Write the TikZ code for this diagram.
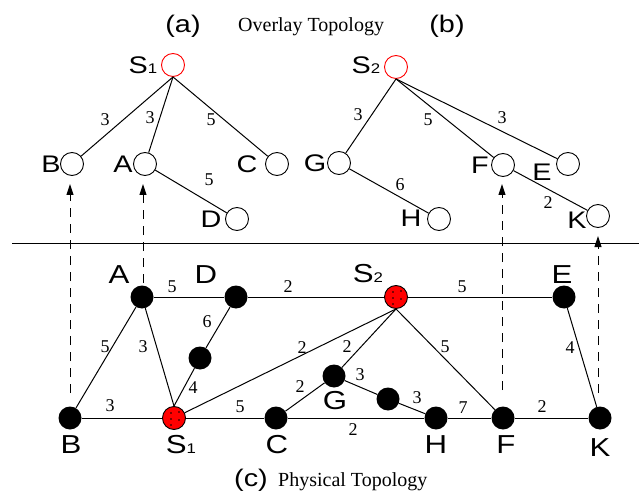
\documentclass[tikz,border=0pt]{standalone}
\usepackage{fontspec}
\setmainfont{Liberation Serif}
\newfontfamily\labfont[FakeStretch=1.2]{Liberation Sans}
\newfontfamily\wtfont{Liberation Serif}
\usetikzlibrary{arrows.meta,calc}
\definecolor{srcred}{RGB}{255,0,0}
\newcommand{\nsub}[1]{{\fontsize{14}{14}\selectfont #1}}

\begin{document}
\begin{tikzpicture}[x=1pt,y=-1pt,
  ov/.style={circle,draw,line width=0.9pt,minimum size=23pt,inner sep=0pt},
  ovsrc/.style={ov,draw=srcred},
  ph/.style={circle,fill=black,minimum size=23pt,inner sep=0pt},
  phsrc/.style={circle,draw,fill=srcred,line width=0.9pt,minimum size=23pt,inner sep=0pt},
  lbl/.style={inner sep=0pt,font={\labfont\fontsize{24}{24}\selectfont}},
  plbl/.style={inner sep=0pt,font={\labfont\fontsize{26}{26}\selectfont}},
  wt/.style={inner sep=0pt,font={\wtfont\fontsize{18}{18}\selectfont}},
  title/.style={inner sep=0pt,anchor=base west,font={\wtfont\fontsize{20}{20}\selectfont}},
  link/.style={line width=1pt},
  maparrow/.style={line width=1pt,dash pattern=on 9pt off 7pt,-{Triangle[length=11pt,width=7pt]}}]
\useasboundingbox (0,0) rectangle (639,494);

% titles
\node[lbl] (capA) at (183,26) {(a)};
\node[lbl] (capB) at (447,26) {(b)};
\node[title] (ovtitle) at (238,32) {Overlay Topology};
\node[lbl] (capC) at (251,480) {(c)};
\node[title] (phtitle) at (278,486) {Physical Topology};

% overlay tree of S1
\node[ovsrc] (oS1) at (173,65) {};
\node[ov] (oB) at (72,164) {};
\node[ov] (oA) at (145,164) {};
\node[ov] (oC) at (277,164) {};
\node[ov] (oD) at (237,219) {};
\node[lbl] (loS1) at (143,65) {S\nsub{1}};
\node[lbl] (loB) at (51,164) {B};
\node[lbl] (loA) at (123,164) {A};
\node[lbl] (loC) at (247,164) {C};
\node[lbl] (loD) at (211,219) {D};
\draw[link] (oS1.south) -- (oB);
\draw[link] (oS1.south) -- (oA);
\draw[link] (oS1.south) -- (oC);
\draw[link] (oA) -- (oD);
\node[wt] (woSB) at (105,120) {3};
\node[wt] (woSA) at (150,118) {3};
\node[wt] (woSC) at (211,120) {5};
\node[wt] (woAD) at (209,180) {5};

% overlay tree of S2
\node[ovsrc] (oS2) at (396,67) {};
\node[ov] (oG) at (339,163) {};
\node[ov] (oF) at (503,165) {};
\node[ov] (oE) at (568,164) {};
\node[ov] (oH) at (439,219) {};
\node[ov] (oK) at (598,216) {};
\node[lbl] (loS2) at (366,65) {S\nsub{2}};
\node[lbl] (loG) at (315,163) {G};
\node[lbl] (loF) at (480,165) {F};
\node[lbl] (loE) at (542,172) {E};
\node[lbl] (loH) at (411,218) {H};
\node[lbl] (loK) at (577,220) {K};
\draw[link] (oS2.south) -- (oG);
\draw[link] (oS2.south) -- (oF);
\draw[link] (oS2.south) -- (oE);
\draw[link] (oG) -- (oH);
\draw[link] (oF) -- (oK);
\node[wt] (woSG) at (358,115) {3};
\node[wt] (woSF) at (428,120) {5};
\node[wt] (woSE) at (502,118) {3};
\node[wt] (woGH) at (400,185) {6};
\node[wt] (woFK) at (548,203) {2};

\draw[link] (12,243) -- (639,243);

% physical network
\node[ph] (pA) at (142,297) {};
\node[ph] (pD) at (236,297) {};
\node[ph] (pX) at (200,358) {};
\node[ph] (pB) at (70,418) {};
\node[phsrc] (pS1) at (174,418) {};
\node[ph] (pC) at (276,418) {};
\node[phsrc] (pS2) at (396,297) {};
\node[ph] (pE) at (564,297) {};
\node[ph] (pG) at (334,376) {};
\node[ph] (pY) at (388,399) {};
\node[ph] (pH) at (436,418) {};
\node[ph] (pF) at (503,418) {};
\node[ph] (pK) at (600,418) {};
\foreach \dx/\dy in {-3/-5,5/-6,-3/1,5/2,-3/7}{
  \fill ($(pS1)+(\dx,\dy)$) circle[radius=0.9pt];
  \fill ($(pS2)+(\dx,\dy)$) circle[radius=0.9pt];
}
\node[plbl] (lpA) at (119,275) {A};
\node[plbl] (lpD) at (206,275) {D};
\node[plbl] (lpS2) at (368,274) {S\nsub{2}};
\node[plbl] (lpE) at (562,275) {E};
\node[plbl] (lpB) at (71,445) {B};
\node[plbl] (lpS1) at (181,445) {S\nsub{1}};
\node[plbl] (lpC) at (277,445) {C};
\node[plbl] (lpG) at (335,401) {G};
\node[plbl] (lpH) at (436,445) {H};
\node[plbl] (lpF) at (506,445) {F};
\node[plbl] (lpK) at (600,448) {K};

\draw[link] (pA) -- (pD);
\draw[link] (pD) -- (pS2);
\draw[link] (pS2) -- (pE);
\draw[link] (pA) -- (pB);
\draw[link] (pA) -- (pS1.north);
\draw[link] (pD) -- (pX);
\draw[link] (pX) -- (pS1.north);
\draw[link] (pB) -- (pS1);
\draw[link] (pS1) -- (pC);
\draw[link] (pS1) -- (pS2.south);
\draw[link] (pC) -- (pG);
\draw[link] (pS2.south) -- (pG);
\draw[link] (pG) -- (pY);
\draw[link] (pY) -- (pH);
\draw[link] (pC) -- (pH);
\draw[link] (pH) -- (pF);
\draw[link] (pF) -- (pK);
\draw[link] (pS2.south) -- (pF);
\draw[link] (pE) -- (pK);
\node[wt] (wpAD) at (172,287) {5};
\node[wt] (wpDS) at (288,287) {2};
\node[wt] (wpSE) at (462,287) {5};
\node[wt] (wpAB) at (105,347) {5};
\node[wt] (wpAS) at (143,347) {3};
\node[wt] (wpDX) at (207,322) {6};
\node[wt] (wpXS) at (193,388) {4};
\node[wt] (wpBS) at (110,406) {3};
\node[wt] (wpSC) at (240,407) {5};
\node[wt] (wpSS) at (302,348) {2};
\node[wt] (wpCG) at (300,387) {2};
\node[wt] (wpSG) at (347,347) {2};
\node[wt] (wpGY) at (360,375) {3};
\node[wt] (wpYH) at (417,398) {3};
\node[wt] (wpCH) at (353,430) {2};
\node[wt] (wpHF) at (463,408) {7};
\node[wt] (wpFK) at (542,407) {2};
\node[wt] (wpSF) at (445,347) {5};
\node[wt] (wpEK) at (570,348) {4};

% mapping arrows
\coordinate (tB) at (70,393);
\coordinate (hB) at (70,184);
\coordinate (tA) at (143,283);
\coordinate (hA) at (143,184);
\coordinate (tF) at (502,390);
\coordinate (hF) at (502,184);
\coordinate (tK) at (598,393);
\coordinate (hK) at (598,236);
\draw[maparrow] (tB) -- (hB);
\draw[maparrow] (tA) -- (hA);
\draw[maparrow] (tF) -- (hF);
\draw[maparrow] (tK) -- (hK);
\end{tikzpicture}
\end{document}
